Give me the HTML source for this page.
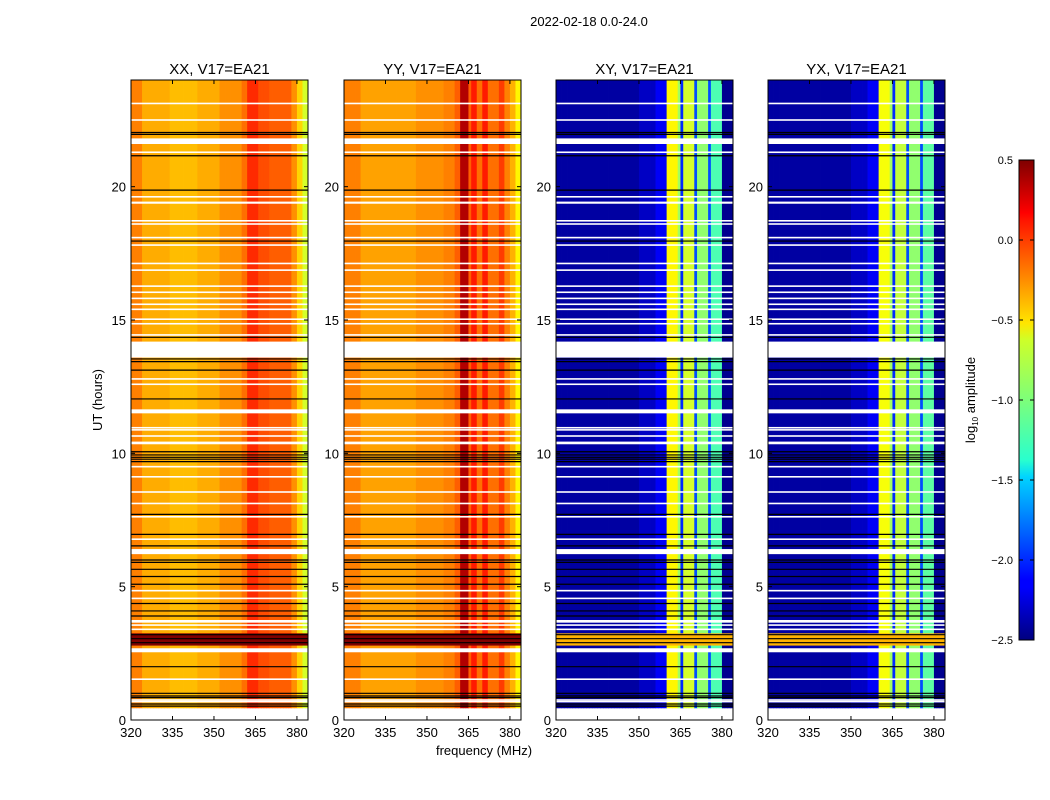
<!DOCTYPE html>
<html><head><meta charset="utf-8">
<style>
html,body{margin:0;padding:0;background:#fff;}
svg{display:block;font-family:"Liberation Sans",sans-serif;}
</style></head>
<body>
<svg id="chart" width="1050" height="800" viewBox="0 0 1050 800">
<defs>
<linearGradient id="jetgrad" x1="0" y1="1" x2="0" y2="0">
<stop offset="0" stop-color="#00007f"/><stop offset="0.11" stop-color="#0000ff"/>
<stop offset="0.125" stop-color="#0000ff"/><stop offset="0.34" stop-color="#00d4ff"/>
<stop offset="0.375" stop-color="#29ffce"/><stop offset="0.5" stop-color="#7dff7a"/>
<stop offset="0.625" stop-color="#ceff29"/><stop offset="0.66" stop-color="#ffe500"/>
<stop offset="0.875" stop-color="#ff1400"/><stop offset="0.89" stop-color="#ff0000"/>
<stop offset="1" stop-color="#7f0000"/>
</linearGradient>
</defs>
<text x="589" y="26" font-size="13" text-anchor="middle">2022-02-18 0.0-24.0</text>
<text x="102" y="400" font-size="13" text-anchor="middle" transform="rotate(-90 102 400)">UT (hours)</text>
<text x="484" y="755" font-size="13" text-anchor="middle">frequency (MHz)</text>
<g id="panels"></g>
<g>
<rect x="1019" y="160" width="15" height="480" fill="url(#jetgrad)" stroke="#000" stroke-width="1"/>
<g id="cbticks"></g>
<text x="975" y="400" font-size="13" text-anchor="middle" transform="rotate(-90 975 400)">log<tspan font-size="8" dy="3">10</tspan><tspan dy="-3"> amplitude</tspan></text>
</g>
</svg>
<script>
// ---- data ----
const panelTitles = ["XX, V17=EA21","YY, V17=EA21","XY, V17=EA21","YX, V17=EA21"];
const freqStart = 320; // MHz, 1 MHz channels
const xxProfile = [-0.25,-0.25,-0.25,-0.25, -0.38,-0.38,-0.38,-0.38,-0.38,-0.38,-0.38,-0.38,-0.38,-0.38,
 -0.43,-0.43,-0.43,-0.43,-0.43,-0.43,-0.43,-0.43,-0.43,-0.43, -0.38,-0.38,-0.38,-0.38,-0.38,-0.38,-0.38,-0.38,
 -0.3,-0.3,-0.3,-0.3,-0.3,-0.3,-0.3,-0.3, -0.2,-0.2, 0.0,0.0,0.0,0.0, -0.1,-0.1,-0.1,-0.1,
 -0.15,-0.15,-0.15,-0.15,-0.15,-0.15,-0.15,-0.15, -0.3,-0.3, -0.5,-0.5, -0.75,-0.75];
const yyProfile = [-0.25,-0.25,-0.25,-0.25,-0.25,-0.25,
 -0.35,-0.35,-0.35,-0.35,-0.35,-0.35,-0.35,-0.35,-0.35,-0.35,-0.35,-0.35,-0.35,-0.35,-0.35,-0.35,-0.35,-0.35,-0.35,-0.35,
 -0.3,-0.3,-0.3,-0.3,-0.3,-0.3,-0.3,-0.3,-0.3,-0.3, -0.25,-0.25,-0.25,-0.25, -0.15,-0.15, 0.35,0.35,0.35, -0.15,
 0.05,0.05, -0.2,-0.2, 0.05,0.05, -0.2,-0.2,-0.2,-0.2, -0.05,-0.05, -0.25,-0.25, -0.4,-0.4, -0.6,-0.6];
const xyProfile = [-2.4,-2.4,-2.4,-2.4,-2.4,-2.4,-2.4,-2.4,-2.4,-2.4,-2.4,-2.4,-2.4,-2.4,-2.4,
 -2.4,-2.4,-2.4,-2.4,-2.4,-2.4,-2.4,-2.4,-2.4,-2.4,-2.4,-2.4,-2.4,-2.4,-2.4,
 -2.3,-2.3,-2.3,-2.3,-2.3,-2.3, -2.15,-2.15,-2.15,-2.15, -0.6,-0.6,-0.6,-0.6, -0.9, -2.0,
 -0.75,-0.75,-0.75,-0.75, -1.9, -0.95,-0.95,-0.95,-0.95, -1.9, -1.15,-1.15,-1.15,-1.15, -2.45,-2.45,-2.45,-2.45];
const yxProfile = [-2.4,-2.4,-2.4,-2.4,-2.4,-2.4,-2.4,-2.4,-2.4,-2.4,-2.4,-2.4,-2.4,-2.4,-2.4,
 -2.4,-2.4,-2.4,-2.4,-2.4,-2.4,-2.4,-2.4,-2.4,-2.4,-2.4,-2.4,-2.4,-2.4,-2.4,
 -2.3,-2.3,-2.3,-2.3,-2.3,-2.3, -2.15,-2.15,-2.15,-2.15, -0.65,-0.65,-0.65,-0.65, -0.9, -2.0,
 -0.8,-0.8,-0.8,-0.8, -1.9, -0.95,-0.95,-0.95,-0.95, -1.9, -1.1,-1.1,-1.1,-1.1, -2.45,-2.45,-2.45,-2.45];
const hotBandHours = [2.79, 3.25];
const hotBandValues = [0.5, 0.5, -0.4, -0.4];
const dataStartHour = 0.44;
const dataEndHour = 24;
const whiteBandStart = [23.09,22.47,21.6,21.26,19.59,19.36,18.69,18.57,18.06,17.78,17.09,16.84,16.24,16.01,15.78,15.56,15.37,15.0,14.83,14.41,13.59,12.76,12.56,11.5,10.93,10.85,10.62,10.34,9.47,9.09,8.52,8.09,7.59,6.75,6.22,4.82,4.53,3.65,3.53,3.37,2.54,1.5,0.72,0.66];
const whiteBandEnd   = [23.15,22.53,21.81,21.32,19.65,19.44,18.75,18.63,18.12,17.84,17.15,16.9,16.3,16.07,15.84,15.62,15.43,15.06,14.89,14.47,14.19,12.82,12.62,11.65,10.99,10.91,10.68,10.44,9.53,9.15,8.58,8.15,7.65,6.81,6.41,4.88,4.59,3.75,3.59,3.43,2.69,1.56,0.78,0.72];
const blackLineHours = [22.03,21.96,21.16,19.87,17.96,14.35,13.54,13.44,13.12,12.04,10.06,9.94,9.85,9.78,9.69,7.71,6.96,6.53,6.0,5.91,5.65,5.38,5.09,4.37,4.09,3.9,3.2,3.05,2.9,2.0,1.0,0.9,0.84,0.6,0.52];
const yTickValues = [0,5,10,15,20];
const xTickValues = [320,335,350,365,380];
const cbTickValues = [0.5,0.0,-0.5,-1.0,-1.5,-2.0,-2.5];
const cbTickLabels = ["0.5","0.0","\u22120.5","\u22121.0","\u22121.5","\u22122.0","\u22122.5"];

// ---- helpers ----
const NS = "http://www.w3.org/2000/svg";
const panelLeft = [131,344,556,768];
const panelW = 177, top0 = 80, bot0 = 720;
const vmin = -2.5, vmax = 0.5;
const profiles = [xxProfile, yyProfile, xyProfile, yxProfile];
function yScale(h){ return bot0 - (h/24)*(bot0-top0); }
function xScale(p, f){ return panelLeft[p] + (f-320)/64*panelW; }
function clamp(v){ return Math.max(0, Math.min(1, v)); }
function jet(v){
  const t = clamp((v-vmin)/(vmax-vmin));
  const r = clamp(Math.min(4*t-1.5, -4*t+4.5));
  const g = clamp(Math.min(4*t-0.5, -4*t+3.5));
  const b = clamp(Math.min(4*t+0.5, -4*t+2.5));
  return `rgb(${Math.round(r*255)},${Math.round(g*255)},${Math.round(b*255)})`;
}
function mk(tag, attrs, parent){
  const e = document.createElementNS(NS, tag);
  for (const k in attrs) e.setAttribute(k, attrs[k]);
  parent.appendChild(e); return e;
}
const root = document.getElementById("panels");
for (let p=0; p<4; p++){
  const g = mk("g", {}, root);
  
  
  const prof = profiles[p];
  const yT = yScale(dataEndHour), yB = yScale(dataStartHour);
  for (let i=0;i<prof.length;i++){
    const x1 = xScale(p, freqStart+i), x2 = xScale(p, freqStart+i+1);
    const r = mk("rect", {x:x1, y:yT, width:(x2-x1)+0.4, height:yB-yT, fill:jet(prof[i])}, g);
    
    
  }
  const hb = mk("rect", {x:panelLeft[p], y:yScale(hotBandHours[1]), width:panelW, height:yScale(hotBandHours[0])-yScale(hotBandHours[1]), fill:jet(hotBandValues[p])}, g);
  
  
  for (let k=0;k<whiteBandStart.length;k++){
    const wb = mk("rect", {x:panelLeft[p], y:yScale(whiteBandEnd[k]), width:panelW, height:Math.max(1.2, yScale(whiteBandStart[k])-yScale(whiteBandEnd[k])), fill:"#fff"}, g);
    
    
  }
  for (const h of blackLineHours){
    const bl = mk("line", {x1:panelLeft[p], x2:panelLeft[p]+panelW, y1:yScale(h), y2:yScale(h), stroke:"#000", "stroke-width":1.2}, g);
    
    
  }
  const fr = mk("rect", {x:panelLeft[p], y:top0, width:panelW, height:bot0-top0, fill:"none", stroke:"#000", "stroke-width":1}, g);
  
  
  const tt = mk("text", {x:panelLeft[p]+panelW/2, y:74, "font-size":15, "text-anchor":"middle"}, g);
  tt.textContent = panelTitles[p];
  
  
  for (const v of yTickValues){
    const y = yScale(v);
    mk("line", {x1:panelLeft[p], x2:panelLeft[p]+4, y1:y, y2:y, stroke:"#000"}, g);
    mk("line", {x1:panelLeft[p]+panelW-4, x2:panelLeft[p]+panelW, y1:y, y2:y, stroke:"#000"}, g);
    const t = mk("text", {x:panelLeft[p]-5, y:y+5, "font-size":13, "text-anchor":"end"}, g);
    t.textContent = v;
    
    
  }
  for (const f of xTickValues){
    const x = xScale(p, f);
    mk("line", {x1:x, x2:x, y1:bot0, y2:bot0-4, stroke:"#000"}, g);
    mk("line", {x1:x, x2:x, y1:top0, y2:top0+4, stroke:"#000"}, g);
    const t = mk("text", {x:x, y:737, "font-size":13, "text-anchor":"middle"}, g);
    t.textContent = f;
    
    
  }
}
const cbg = document.getElementById("cbticks");
for (let i=0;i<cbTickValues.length;i++){
  const y = 640 - (cbTickValues[i]-vmin)/(vmax-vmin)*480;
  mk("line", {x1:1019, x2:1023, y1:y, y2:y, stroke:"#000"}, cbg);
  mk("line", {x1:1030, x2:1034, y1:y, y2:y, stroke:"#000"}, cbg);
  const t = mk("text", {x:1013, y:y+4, "font-size":11, "text-anchor":"end"}, cbg);
  t.textContent = cbTickLabels[i];
  
  
}
</script>
</body></html>
